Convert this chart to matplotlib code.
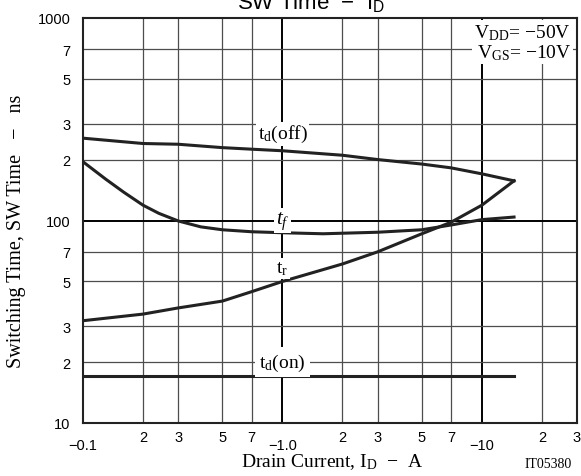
import matplotlib
matplotlib.use("Agg")
import matplotlib.pyplot as plt
from matplotlib.ticker import FixedLocator, FixedFormatter

plt.rcParams['mathtext.fontset'] = 'custom'
plt.rcParams['mathtext.rm'] = 'Liberation Serif'
plt.rcParams['mathtext.it'] = 'Liberation Serif:italic'
plt.rcParams['mathtext.sf'] = 'Liberation Sans'

# ---- data (drain current magnitude, A ; switching time, ns) ----
id_td_off = [0.1, 0.2, 0.3, 0.5, 0.7, 1.0, 2.0, 3.0, 5.0, 7.0, 10.0, 14.5]
td_off = [255, 240, 238, 229, 225, 221, 210, 200, 190, 182, 170, 157]

id_tf = [0.1, 0.13, 0.16, 0.2, 0.24, 0.3, 0.39, 0.5, 0.7, 1.0, 1.6, 3.0, 5.0, 7.0, 10.0, 14.5]
tf = [195, 160, 138, 119, 108.5, 99.5, 93, 90, 88, 87, 86, 87.5, 90, 95, 101, 104]

id_tr = [0.1, 0.2, 0.3, 0.5, 0.7, 1.0, 2.0, 3.0, 5.0, 7.0, 10.0, 14.5]
tr = [32, 34.5, 37, 40, 44.5, 50, 61, 70, 86, 98, 119, 157]

id_td_on = [0.1, 14.5]
td_on = [17, 17]

x_major = [0.1, 1.0, 10.0]
x_major_labels = ['\u22120.1', '\u22121.0', '\u221210']
x_minor = [0.2, 0.3, 0.5, 0.7, 2, 3, 5, 7, 20, 30]
x_minor_labels = ['2', '3', '5', '7', '2', '3', '5', '7', '2', '3']
y_major = [10, 100, 1000]
y_major_labels = ['10', '100', '1000']
y_minor = [20, 30, 50, 70, 200, 300, 500, 700]
y_minor_labels = ['2', '3', '5', '7', '2', '3', '5', '7']

fig = plt.figure(figsize=(5.81, 4.77), dpi=100)
ax = fig.add_axes([83/581, 1-424/477, (577-83)/581, (424-19)/477])
ax.set_xscale('log')
ax.set_yscale('log')
ax.set_xlim(0.1, 30)
ax.set_ylim(10, 1000)

ax.xaxis.set_major_locator(FixedLocator(x_major))
ax.xaxis.set_major_formatter(FixedFormatter(x_major_labels))
ax.xaxis.set_minor_locator(FixedLocator(x_minor))
ax.xaxis.set_minor_formatter(FixedFormatter(x_minor_labels))
ax.yaxis.set_major_locator(FixedLocator(y_major))
ax.yaxis.set_major_formatter(FixedFormatter(y_major_labels))
ax.yaxis.set_minor_locator(FixedLocator(y_minor))
ax.yaxis.set_minor_formatter(FixedFormatter(y_minor_labels))

ax.tick_params(axis='x', which='major', length=0, pad=11, labelsize=10.5)
ax.tick_params(axis='x', which='minor', length=0, pad=5, labelsize=10.5)
ax.tick_params(axis='y', which='both', length=0, pad=9, labelsize=10.5)
for lab in ax.get_xticklabels(which='both') + ax.get_yticklabels(which='both'):
    lab.set_fontfamily('Liberation Sans')

ax.grid(True, which='major', color='black', lw=1.4, zorder=0)
ax.grid(True, which='minor', color='#4d4d4d', lw=0.9, zorder=0)
ax.set_axisbelow(True)
for s in ax.spines.values():
    s.set_linewidth(1.5)
    s.set_color('#222222')

lw = 2.2
ax.plot(id_td_off, td_off, color='#222222', lw=lw, zorder=3)
ax.plot(id_tf, tf, color='#222222', lw=lw, zorder=3)
ax.plot(id_tr, tr, color='#222222', lw=lw, zorder=3)
ax.plot(id_td_on, td_on, color='#222222', lw=lw, zorder=3)

fs = 14
bb = dict(facecolor='white', edgecolor='none', pad=1.0)
ax.text(1.0, 268, r't$_\mathrm{d}$(off)', fontfamily='Liberation Serif', fontsize=fs,
        ha='center', va='center', bbox=bb, zorder=4)
ax.text(1.0, 100, r'$t_f$', fontsize=fs + 1, ha='center', va='center', bbox=bb, zorder=4)
ax.text(1.0, 58, r't$_\mathrm{r}$', fontfamily='Liberation Serif', fontsize=fs,
        ha='center', va='center', bbox=bb, zorder=4)
ax.text(1.0, 20, r't$_\mathrm{d}$(on)', fontfamily='Liberation Serif', fontsize=fs,
        ha='center', va='center', bbox=dict(facecolor='white', edgecolor='none', pad=3), zorder=4)

ax.text(0.988, 0.99, 'V$_\\mathrm{DD}$= \u221250V\nV$_\\mathrm{GS}$= \u221210V',
        transform=ax.transAxes, ha='right', va='top', fontfamily='Liberation Serif',
        fontsize=fs, linespacing=1.05,
        bbox=dict(facecolor='white', edgecolor='none', pad=1.5), zorder=5)

fig.text(332/581, 1-462/477, 'Drain Current, I$_\\mathrm{D}$  \u2212  A', ha='center', va='center',
         fontfamily='Liberation Serif', fontsize=fs)
fig.text(17/581, 1-231/477, 'Switching Time, SW Time   \u2212   ns', ha='center', va='center',
         rotation=90, fontfamily='Liberation Serif', fontsize=fs + 0.5)
fig.text(548/581, 1-465/477, 'IT05380', ha='center', va='center',
         fontfamily='Liberation Serif', fontsize=10)
fig.text(311/581, 1-9/477, 'SW Time  \u2212  I$_\\mathsf{D}$', ha='center', va='baseline',
         fontfamily='Liberation Sans', fontsize=16)

fig.savefig('out.png', dpi=100)
